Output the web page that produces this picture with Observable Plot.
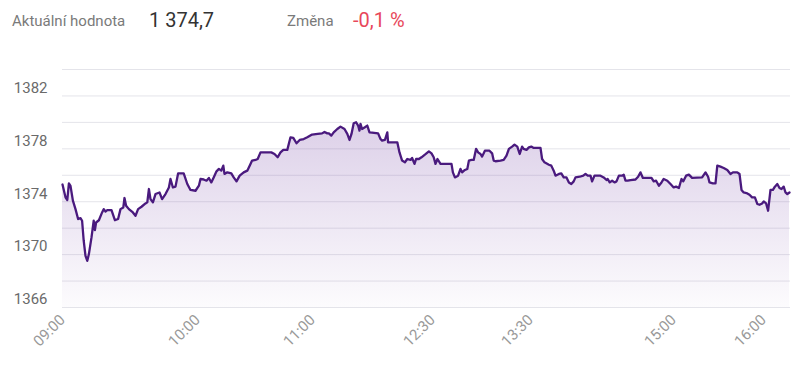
<!DOCTYPE html>
<html>
<head>
<meta charset="utf-8">
<script src="https://cdn.jsdelivr.net/npm/d3@7"></script>
<script src="https://cdn.jsdelivr.net/npm/@observablehq/plot@0.6"></script>
<style>
  html, body { margin: 0; padding: 0; background: #fff; }
  body { width: 800px; height: 367px; overflow: hidden; font-family: Roboto, "Noto Sans", sans-serif; }
  #header { position: relative; height: 40px; }
  #header span { position: absolute; white-space: nowrap; line-height: normal; }
  .lbl { font-size: 15px; color: #7a7a7a; top: 12px; }
  .val { font-size: 20px; color: #333; top: 8px; }
  .neg { color: #e8475a; }
  #chart svg { display: block; }
</style>
</head>
<body>
<div id="header">
  <span class="lbl" style="left:12px">Aktuální hodnota</span>
  <span class="val" style="left:149px">1 374,7</span>
  <span class="lbl" style="left:287px">Změna</span>
  <span class="val neg" style="left:353px">-0,1 %</span>
</div>
<div id="chart"></div>
<script>
// sample index along the trading session (x) and index value (y)
const sampleIndex = [
  0, 0.75, 1.2, 1.6, 2.0, 2.6, 3.25, 3.9, 4.5, 4.9, 5.3, 5.75, 6.2, 6.6, 7.25, 7.8, 8.1, 8.4, 9.1, 9.9,
  10.3, 10.75, 11.2, 12.25, 13.1, 13.9, 14.5, 15.2, 15.5, 15.9, 16.6, 17.6, 18.25, 18.9, 19.75, 20.75, 21.2, 21.6, 22, 22.6,
  23.25, 24.25, 24.9, 25.75, 26.6, 27, 27.6, 28.25, 28.9, 30.3, 31.2, 32, 33.25, 34.1, 34.5, 35.3, 36, 36.6, 37.2, 37.8,
  38.5, 39.1, 39.7, 40.2, 40.5, 41.2, 42.2, 42.8, 43.5, 44.3, 45.3, 46.2, 47, 47.4, 48.25, 48.8, 49.5, 50.75, 52.2, 53,
  53.8, 54.5, 55.2, 56.2, 57, 57.7, 58.5, 59.3, 60.3, 61.2, 62.4, 63.8, 64.9, 65.5, 66.2, 66.6, 67.2, 67.8, 68.7, 69.5,
  70.5, 71.2, 71.75, 72.25, 72.8, 73.4, 73.9, 74.25, 74.5, 74.9, 75.6, 76.2, 76.75, 77.4, 78.9, 79.5, 79.9, 80.6, 81.2, 81.4,
  82, 83.7, 84.25, 84.9, 85.6, 86.2, 87, 87.4, 88, 88.4, 89.1, 89.75, 90.6, 91.6, 92.25, 92.8, 93.25, 93.75, 94.5, 97.25,
  97.6, 98.1, 98.9, 99.5, 99.9, 100.6, 101.2, 101.6, 102.25, 102.8, 103.4, 103.9, 104.5, 104.9, 105.6, 106.75, 107.4, 107.8, 108.25, 109.5,
  110.3, 111, 111.6, 112.4, 113, 113.7, 114.3, 114.9, 115.3, 116, 116.6, 117.2, 117.8, 119.5, 119.9, 120.5, 121.6, 122.2, 122.8, 123.25,
  124.1, 124.7, 125.3, 126, 126.6, 127.2, 127.8, 128.25, 129.3, 130.2, 130.75, 131.3, 132, 132.4, 133, 134.5, 135.3, 136, 136.3, 136.8,
  137.4, 138, 138.5, 139.1, 139.9, 140.3, 140.75, 141.3, 142, 143.25, 143.9, 144.5, 145.1, 147.25, 147.8, 148.4, 149.1, 149.75, 150.3, 151.2,
  152, 152.8, 153.4, 154.1, 154.75, 155.2, 155.9, 156.6, 157.4, 159.9, 160.75, 161.4, 161.75, 162.6, 163.25, 163.7, 164.5, 165.3, 166.2, 167,
  167.6, 168.7, 169.25, 169.75, 170.3, 171.2, 171.75, 172.4, 173.1, 173.7, 174.25, 174.9, 175.3, 175.9, 176.4, 177, 177.6, 178.1, 178.7, 179.25,
  179.75, 180.3, 180.75, 181.2, 181.75
];
const indexValue = [
  1375.3, 1374.33, 1374.13, 1375.39, 1375.2, 1374.08, 1373.44, 1372.69, 1372.76, 1372.56, 1371.05, 1369.9, 1369.53, 1370.04, 1371.3, 1372.56, 1371.86, 1372.43, 1372.6, 1373.19,
  1373.44, 1373.26, 1373.36, 1373.36, 1372.6, 1372.69, 1373.44, 1373.57, 1374.28, 1373.7, 1373.44, 1373.19, 1372.94, 1373.44, 1373.62, 1373.87, 1373.95, 1374.96, 1374.2, 1373.95,
  1374.58, 1374.7, 1374.2, 1374.58, 1375.08, 1375.72, 1375.08, 1375.14, 1376.14, 1376.14, 1375.34, 1374.89, 1374.83, 1375.21, 1375.72, 1375.68, 1375.59, 1375.8, 1375.46, 1375.84,
  1376.3, 1376.48, 1376.35, 1376.73, 1376.1, 1376.22, 1376.14, 1375.84, 1375.54, 1375.97, 1376.22, 1376.35, 1376.86, 1377.11, 1377.16, 1377.23, 1377.73, 1377.73, 1377.73, 1377.61,
  1377.36, 1377.73, 1377.92, 1377.92, 1378.87, 1378.83, 1378.42, 1378.67, 1378.74, 1378.87, 1379.08, 1379.13, 1379.17, 1379.28, 1379.17, 1379.17, 1379.0, 1379.25, 1379.5, 1379.68,
  1379.5, 1379.13, 1378.67, 1379.13, 1379.93, 1380.01, 1379.76, 1379.38, 1379.89, 1379.5, 1379.63, 1379.76, 1379.25, 1379.23, 1379.17, 1378.74, 1378.62, 1378.67, 1379.25, 1378.49,
  1378.49, 1378.49, 1377.73, 1377.11, 1376.98, 1377.23, 1377.16, 1377.31, 1376.86, 1377.23, 1377.23, 1377.36, 1377.56, 1377.81, 1377.66, 1377.36, 1376.86, 1377.23, 1376.86, 1376.86,
  1376.22, 1375.84, 1375.97, 1376.48, 1376.22, 1376.4, 1376.48, 1377.11, 1377.16, 1377.16, 1378.0, 1377.73, 1377.61, 1377.41, 1377.86, 1377.86, 1377.66, 1377.11, 1377.06, 1377.11,
  1377.16, 1377.48, 1378.0, 1378.17, 1378.32, 1378.17, 1377.61, 1378.17, 1378.0, 1377.92, 1378.11, 1378.17, 1378.07, 1378.07, 1377.23, 1376.98, 1376.8, 1376.73, 1376.35, 1375.97,
  1376.1, 1376.14, 1375.84, 1375.84, 1375.46, 1375.34, 1375.54, 1375.84, 1375.89, 1375.97, 1376.1, 1375.97, 1375.97, 1375.54, 1375.97, 1375.97, 1375.84, 1375.64, 1375.72, 1375.46,
  1375.59, 1375.46, 1375.54, 1375.97, 1375.97, 1376.05, 1375.59, 1375.59, 1375.64, 1375.68, 1375.89, 1376.22, 1375.8, 1375.8, 1375.54, 1375.59, 1375.21, 1375.46, 1375.72, 1375.59,
  1375.34, 1375.08, 1375.14, 1375.04, 1375.72, 1375.54, 1375.97, 1376.05, 1375.8, 1375.84, 1376.22, 1375.89, 1375.46, 1375.39, 1375.39, 1376.73, 1376.65, 1376.55, 1376.4, 1376.1,
  1376.22, 1376.22, 1376.1, 1374.89, 1374.7, 1374.63, 1374.53, 1374.33, 1374.33, 1373.83, 1373.77, 1373.87, 1374.02, 1373.87, 1373.32, 1374.89, 1374.89, 1375.14, 1375.34, 1375.04,
  1374.96, 1375.14, 1374.7, 1374.58, 1374.7
];

// x-axis ticks (sample index) and their time labels
const timeTickIndex = [0, 33.75, 62.5, 92.5, 117, 152.75, 175.25];
const timeTickLabels = ["09:00", "10:00", "11:00", "12:30", "13:30", "15:00", "16:00"];

// y-axis
const yDomain = [1366, 1384];
const gridValues = [1366, 1368, 1370, 1372, 1374, 1376, 1378, 1380, 1382, 1384];
const yLabelValues = [1366, 1370, 1374, 1378, 1382];

const data = sampleIndex.map((t, i) => ({t, v: indexValue[i]}));
const labelOf = new Map(timeTickIndex.map((t, i) => [t, timeTickLabels[i]]));

const chart = Plot.plot({
  width: 800,
  height: 327,
  marginTop: 29,
  marginBottom: 60,
  marginLeft: 62,
  marginRight: 10,
  style: {fontFamily: "Roboto, 'Noto Sans', sans-serif", fontSize: "15px", background: "#fff"},
  x: {domain: [0, 182], label: null},
  y: {domain: yDomain, label: null},
  marks: [
    Plot.gridY(gridValues, {stroke: "#e4e4ea", strokeOpacity: 1, strokeWidth: 1}),
    Plot.areaY(data, {x: "t", y1: yDomain[0], y2: "v", fill: "url(#pxArea)"}),
    Plot.lineY(data, {x: "t", y: "v", stroke: "#4a1a7e", strokeWidth: 2.3, strokeLinejoin: "round"}),
    Plot.axisY({ticks: yLabelValues, label: null, tickSize: 0, tickPadding: 15, dy: -8, fontSize: 15, fill: "#6a6a6a", tickFormat: d => String(d)}),
    Plot.axisX({ticks: timeTickIndex, label: null, tickFormat: d => labelOf.get(d), tickRotate: -45, tickSize: 0, tickPadding: 10, fontSize: 15, fill: "#999"})
  ]
});

const defs = d3.select(chart).insert("defs", ":first-child");
const grad = defs.append("linearGradient").attr("id", "pxArea").attr("x1", 0).attr("y1", 0).attr("x2", 0).attr("y2", 1);
grad.append("stop").attr("offset", "0%").attr("stop-color", "#7a4aa8").attr("stop-opacity", 0.26);
grad.append("stop").attr("offset", "100%").attr("stop-color", "#7a4aa8").attr("stop-opacity", 0.02);

document.getElementById("chart").appendChild(chart);
</script>
</body>
</html>
